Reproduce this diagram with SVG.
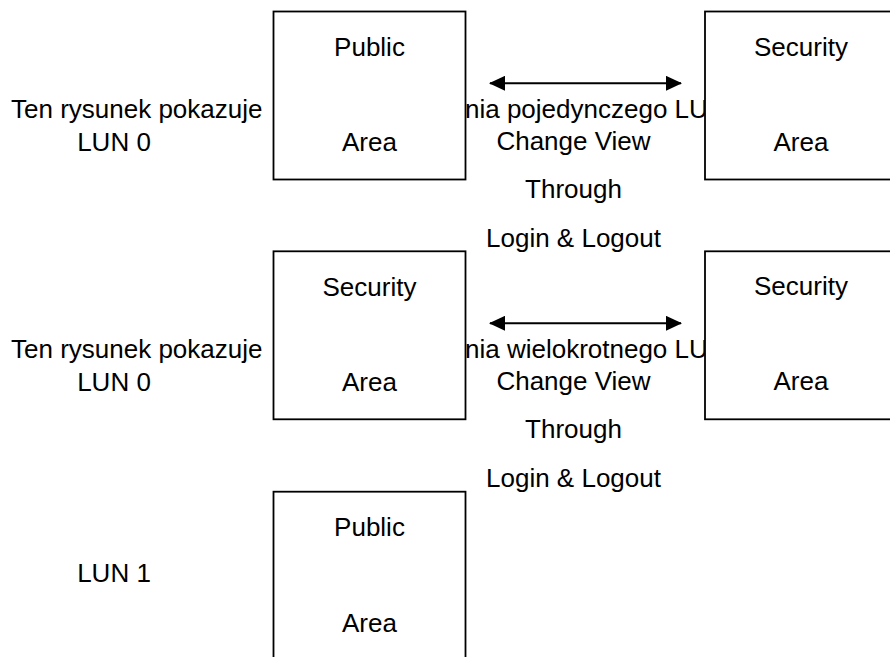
<svg xmlns="http://www.w3.org/2000/svg" width="890" height="657" viewBox="0 0 890 657">
  <style>
    text { font-family: "Liberation Sans", Arial, sans-serif; font-size: 26px; fill: #000; }
    .c { text-anchor: middle; }
    .box { fill: #fff; stroke: #000; stroke-width: 1.8; }
    .arrow { stroke: #000; stroke-width: 2; fill: none; marker-start: url(#head); marker-end: url(#head); }
  </style>
  <defs>
    <marker id="head" viewBox="0 0 16 15" refX="15" refY="7.5" markerWidth="16" markerHeight="15" markerUnits="userSpaceOnUse" orient="auto-start-reverse">
      <path d="M0,0 L16,7.5 L0,15 Z" fill="#000"/>
    </marker>
  </defs>
  <rect width="890" height="657" fill="#fff"/>

  <!-- background captions (partly covered by the boxes) -->
  <g id="caption1">
    <text x="11" y="118.3">Ten rysunek pokazuje</text>
    <text x="450.5" y="118.3">ania pojedynczego LUN</text>
    <text class="c" x="114" y="150.7">LUN 0</text>
  </g>
  <g id="caption2">
    <text x="11" y="358.3">Ten rysunek pokazuje</text>
    <text x="450.5" y="358.3">ania wielokrotnego LUN</text>
    <text class="c" x="114" y="390.7">LUN 0</text>
  </g>
  <g id="caption3">
    <text class="c" x="114" y="581.7">LUN 1</text>
  </g>

  <g id="label1">
    <text class="c" x="573.5" y="150">Change View</text>
    <text class="c" x="573.5" y="198.3">Through</text>
    <text class="c" x="573.5" y="246.7">Login &amp; Logout</text>
  </g>
  <g id="label2">
    <text class="c" x="573.5" y="389.5">Change View</text>
    <text class="c" x="573.5" y="438">Through</text>
    <text class="c" x="573.5" y="486.7">Login &amp; Logout</text>
  </g>

  <g id="connectors">
    <line class="arrow" x1="490" y1="83.3" x2="681" y2="83.3"/>
    <line class="arrow" x1="490" y1="323.3" x2="681" y2="323.3"/>
  </g>

  <g id="public0">
    <rect class="box" x="273.5" y="11.5" width="192" height="168"/>
    <text class="c" x="369.5" y="56">Public</text>
    <text class="c" x="369.5" y="151.3">Area</text>
  </g>
  <g id="security0">
    <rect class="box" x="705" y="11.5" width="192" height="168"/>
    <text class="c" x="801" y="55.5">Security</text>
    <text class="c" x="801" y="151">Area</text>
  </g>
  <g id="security1">
    <rect class="box" x="273.5" y="251.3" width="192" height="168"/>
    <text class="c" x="369.5" y="295.7">Security</text>
    <text class="c" x="369.5" y="390.7">Area</text>
  </g>
  <g id="security2">
    <rect class="box" x="705" y="251.3" width="192" height="168"/>
    <text class="c" x="801" y="295.3">Security</text>
    <text class="c" x="801" y="390.3">Area</text>
  </g>
  <g id="public1">
    <rect class="box" x="273.5" y="491.7" width="192" height="168"/>
    <text class="c" x="369.5" y="536">Public</text>
    <text class="c" x="369.5" y="631.7">Area</text>
  </g>
</svg>
